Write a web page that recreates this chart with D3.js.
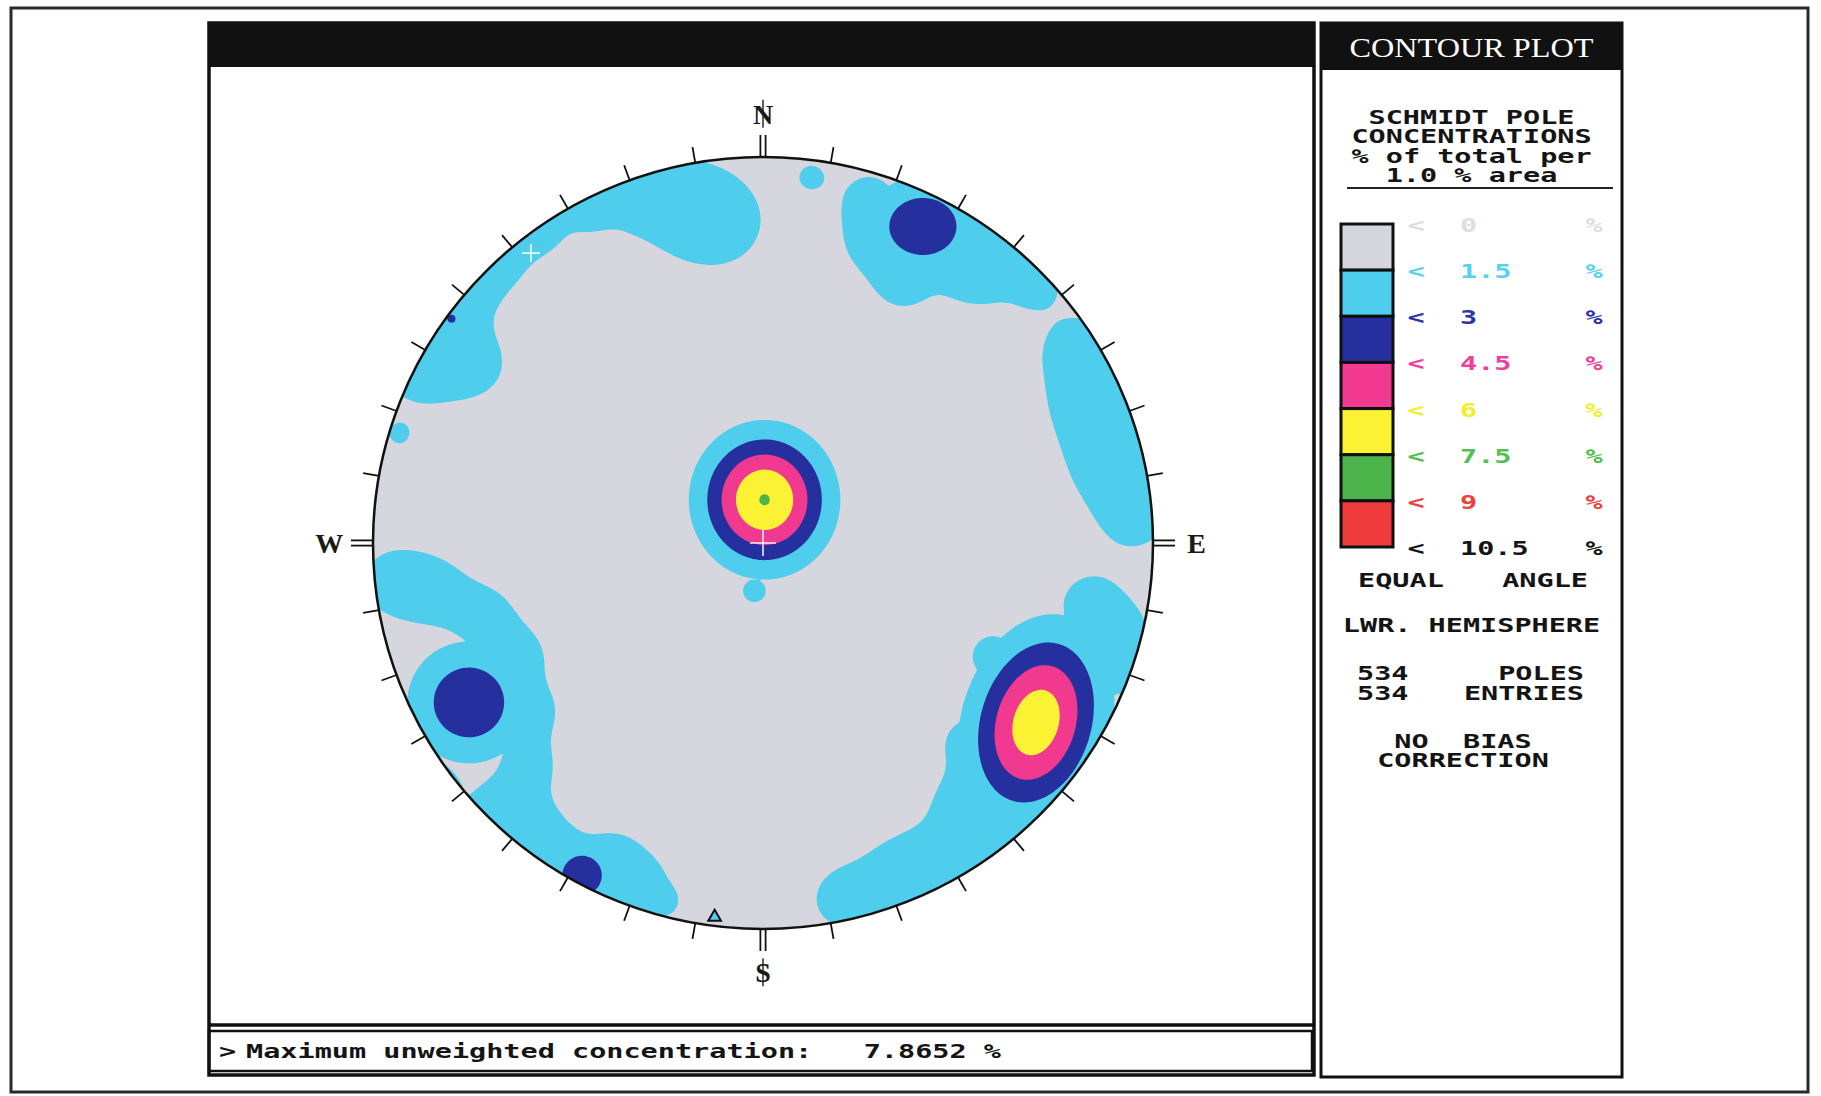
<!DOCTYPE html>
<html lang="en">
<head>
<meta charset="UTF-8">
<title>Contour plot - Schmidt pole concentrations</title>
<script src="https://cdn.jsdelivr.net/npm/d3@7"></script>
<style>
    body { margin: 0; background: #fff; }
    svg { display: block; }
    .mono {
        font-family: "DejaVu Sans Mono", monospace;
        font-weight: bold;
        font-size: 19px;
        white-space: pre;
    }
    .serif { font-family: "Liberation Serif", "DejaVu Serif", serif; }
</style>
</head>
<body>
<script>
    const width = 1821;
    const height = 1096;

    // legend bands: lower bound of each band (%), labels on the band edges
    const levels = [0, 1.5, 3, 4.5, 6, 7.5, 9];
    const levelLabels = ["0", "1.5", "3", "4.5", "6", "7.5", "9", "10.5"];
    const bandColors = ["#d6d6de", "#4fcdec", "#262f9e", "#f0398f", "#faf232", "#4db44b", "#ef3b3b"];
    const labelColors = ["#dddde6", "#55d2f0", "#2c34a6", "#f0409a", "#f2ee2c", "#52c052", "#f04040", "#141414"];

    // pole concentrations read off the net (x east, y north, net radius = 1)
    // peaks: [x, y, peak %, spread x, spread y, tilt deg]
    const clusterPeaks = [
        [0.004, 0.112, 7.56, 0.108, 0.115],   // centre
        [0.70, -0.465, 6.9, 0.11, 0.164, 16], // SE
        [0.41, 0.82, 4.2, 0.105, 0.09],       // NE
        [-0.754, -0.413, 4.2, 0.11],          // SW
        [-0.464, -0.861, 3.9, 0.07],          // S
        [-0.799, 0.581, 3.3, 0.025]           // NW speck
    ];
    // low (1.5 - 3 %) patches: [x, y, peak %, spread]
    const nwPatches = [[-0.873, 0.452, 2.4, 0.084], [-0.739, 0.461, 2.4, 0.060], [-0.843, 0.572, 2.4, 0.084],
        [-0.769, 0.676, 2.4, 0.078], [-0.673, 0.757, 2.4, 0.066], [-0.566, 0.816, 2.4, 0.050],
        [-0.449, 0.861, 2.4, 0.045], [-0.336, 0.900, 2.4, 0.060], [-0.216, 0.879, 2.4, 0.096],
        [-0.106, 0.831, 2.4, 0.090], [-0.933, 0.282, 2.2, 0.024]];
    const nePatches = [[0.270, 0.891, 2.4, 0.055], [0.282, 0.781, 2.4, 0.066], [0.359, 0.676, 2.4, 0.06],
        [0.530, 0.700, 2.4, 0.066], [0.628, 0.730, 2.4, 0.072], [0.703, 0.661, 2.4, 0.042],
        [0.515, 0.891, 2.4, 0.066], [0.124, 0.948, 2.2, 0.032]];
    const eastPatches = [[0.799, 0.512, 2.4, 0.06], [0.834, 0.407, 2.4, 0.084], [0.888, 0.288, 2.4, 0.096],
        [0.918, 0.169, 2.4, 0.084], [0.954, 0.064, 2.4, 0.06]];
    const sePatches = [[0.843, -0.160, 2.4, 0.072], [0.918, -0.243, 2.4, 0.06], [0.903, -0.345, 2.4, 0.045],
        [0.590, -0.294, 2.4, 0.054], [0.530, -0.518, 2.4, 0.06], [0.515, -0.667, 2.4, 0.06],
        [0.610, -0.751, 2.4, 0.066], [0.470, -0.822, 2.4, 0.084], [0.336, -0.876, 2.4, 0.084],
        [0.201, -0.924, 2.4, 0.06]];
    const swPatches = [[-0.948, -0.100, 2.4, 0.072], [-0.843, -0.124, 2.4, 0.066], [-0.715, -0.190, 2.4, 0.066],
        [-0.628, -0.294, 2.4, 0.06], [-0.596, -0.434, 2.4, 0.06], [-0.604, -0.578, 2.4, 0.06],
        [-0.679, -0.682, 2.4, 0.048], [-0.933, -0.518, 2.4, 0.066], [-0.834, -0.637, 2.4, 0.054]];
    const southPatches = [[-0.613, -0.721, 2.4, 0.06], [-0.545, -0.801, 2.4, 0.066], [-0.381, -0.822, 2.4, 0.066],
        [-0.306, -0.891, 2.4, 0.054], [-0.252, -0.930, 2.2, 0.027], [-0.022, -0.124, 2.4, 0.03]];

    // marks on the net
    const crossMarks = [[0, 0, 13], [-0.595, 0.751, 9]];
    const triangleMarks = [[-0.124, -0.977]];
    const tickAzimuths = d3.range(0, 360, 10);
    const cardinals = [["N", 0], ["E", 90], ["S", 180], ["W", 270]];

    // side panel text
    const headerLines = ["SCHMIDT POLE", "CONCENTRATIONS", "% of total per", "1.0 % area"];
    const projectionWords = ["EQUAL", "ANGLE"];
    const hemisphere = "LWR. HEMISPHERE";
    const poleCount = 534;
    const entryCount = 534;
    const biasLines = ["NO  BIAS", "CORRECTION"];
    const maxConcentration = 7.8652;

    const svg = d3.select("body").append("svg").attr("width", width).attr("height", height);
    svg.append("rect").attr("width", width).attr("height", height).attr("fill", "#fff");

    function monoText(g, str, x, y, anchor, color) {
        return g.append("text")
            .attr("class", "mono")
            .attr("transform", `translate(${x},${y}) scale(1.5,1)`)
            .attr("text-anchor", anchor)
            .attr("fill", color || "#141414")
            .text(str);
    }

    // ---------- frames ----------
    svg.append("rect").attr("x", 11).attr("y", 8).attr("width", 1797).attr("height", 1084)
        .attr("fill", "none").attr("stroke", "#2a2a2a").attr("stroke-width", 3);

    const main = svg.append("g");
    main.append("rect").attr("x", 209).attr("y", 23).attr("width", 1105).attr("height", 1052)
        .attr("fill", "none").attr("stroke", "#111").attr("stroke-width", 3.5);
    main.append("rect").attr("x", 209).attr("y", 23).attr("width", 1105).attr("height", 44).attr("fill", "#111");
    main.append("line").attr("x1", 209).attr("x2", 1314).attr("y1", 1025).attr("y2", 1025)
        .attr("stroke", "#111").attr("stroke-width", 3.5);
    main.append("rect").attr("x", 209).attr("y", 1031).attr("width", 1103).attr("height", 40)
        .attr("fill", "none").attr("stroke", "#111").attr("stroke-width", 2.5);
    monoText(main, ">", 219, 1058, "start");
    monoText(main, "Maximum unweighted concentration:   " + maxConcentration.toFixed(4) + " %", 246, 1058, "start");

    // ---------- stereonet ----------
    const cx = 763, cy = 543, rx = 390, ry = 386;
    const netX = d3.scaleLinear().domain([-1, 1]).range([cx - rx, cx + rx]);
    const netY = d3.scaleLinear().domain([-1, 1]).range([cy + ry, cy - ry]);

    const patches = [].concat(nwPatches, nePatches, eastPatches, sePatches, swPatches, southPatches);

    function kernelValue(k, u, v) {
        const sx = k[3], sy = k[4] || k[3], t = (k[5] || 0) * Math.PI / 180;
        const dx = u - k[0], dy = v - k[1];
        const a = dx * Math.cos(t) - dy * Math.sin(t);
        const b = dx * Math.sin(t) + dy * Math.cos(t);
        return k[2] * Math.exp(-0.5 * ((a / sx) * (a / sx) + (b / sy) * (b / sy)));
    }

    const n = 360, ext = 1.03, step = 2 * ext / n;
    const grid = new Float64Array(n * n);
    for (let j = 0; j < n; j++) {
        const v = ext - (j + 0.5) * step;
        for (let i = 0; i < n; i++) {
            const u = -ext + (i + 0.5) * step;
            let peak = 0, low = 0;
            for (const k of clusterPeaks) peak = Math.max(peak, kernelValue(k, u, v));
            for (const k of patches) low += kernelValue(k, u, v);
            grid[j * n + i] = Math.max(peak, Math.min(2.9, low));
        }
    }

    const contours = d3.contours().size([n, n]).thresholds(levels.slice(1))(grid);
    const gx = d3.scaleLinear().domain([0, n]).range([netX(-ext), netX(ext)]);
    const gy = d3.scaleLinear().domain([0, n]).range([netY(ext), netY(-ext)]);
    const gridPath = d3.geoPath(d3.geoTransform({
        point: function(x, y) { this.stream.point(gx(x), gy(y)); }
    }));

    svg.append("clipPath").attr("id", "netClip")
        .append("ellipse").attr("cx", cx).attr("cy", cy).attr("rx", rx).attr("ry", ry);

    const net = svg.append("g");
    const plot = net.append("g").attr("clip-path", "url(#netClip)");
    plot.append("ellipse").attr("cx", cx).attr("cy", cy).attr("rx", rx).attr("ry", ry).attr("fill", bandColors[0]);
    plot.selectAll("path.band")
        .data(contours)
        .enter()
        .append("path")
        .attr("class", "band")
        .attr("d", gridPath)
        .attr("fill", d => bandColors[levels.indexOf(d.value)]);

    // white crosses
    crossMarks.forEach(function(c) {
        const x = netX(c[0]), y = netY(c[1]), s = c[2];
        plot.append("path").attr("d", `M${x - s},${y}H${x + s}M${x},${y - s}V${y + s}`)
            .attr("stroke", "#fff").attr("stroke-width", 1.6).attr("opacity", 0.9);
    });

    net.append("ellipse").attr("cx", cx).attr("cy", cy).attr("rx", rx).attr("ry", ry)
        .attr("fill", "none").attr("stroke", "#111").attr("stroke-width", 2.5);

    net.selectAll("path.tri")
        .data(triangleMarks)
        .enter()
        .append("path")
        .attr("class", "tri")
        .attr("transform", d => `translate(${netX(d[0])},${netY(d[1]) - 3})`)
        .attr("d", d3.symbol(d3.symbolTriangle, 70))
        .attr("fill", bandColors[1]).attr("stroke", "#111").attr("stroke-width", 2);

    // ticks every 10 degrees, doubled at the cardinal points
    tickAzimuths.forEach(function(az) {
        const a = az * Math.PI / 180;
        const sx = Math.sin(a), sy = -Math.cos(a);
        const x0 = netX(Math.sin(a)), y0 = netY(Math.cos(a));
        if (az % 90 === 0) {
            [-2.6, 2.6].forEach(function(off) {
                const ox = Math.cos(a) * off, oy = Math.sin(a) * off;
                net.append("line")
                    .attr("x1", x0 + ox).attr("y1", y0 + oy)
                    .attr("x2", x0 + ox + sx * 22).attr("y2", y0 + oy + sy * 22)
                    .attr("stroke", "#111").attr("stroke-width", 1.8);
            });
        } else {
            net.append("line")
                .attr("x1", x0).attr("y1", y0)
                .attr("x2", x0 + sx * 16).attr("y2", y0 + sy * 16)
                .attr("stroke", "#111").attr("stroke-width", 1.8);
        }
    });

    cardinals.forEach(function(c) {
        const a = c[1] * Math.PI / 180;
        const x = netX(Math.sin(a) * 1.112), y = netY(Math.cos(a) * 1.112);
        net.append("text")
            .attr("class", "serif")
            .attr("x", x).attr("y", y + 10)
            .attr("text-anchor", "middle")
            .attr("font-size", 28).attr("font-weight", "bold")
            .attr("fill", "#1a1a1a")
            .text(c[0]);
        if (c[0] === "N" || c[0] === "S") {
            net.append("line").attr("x1", x).attr("x2", x).attr("y1", y - 14).attr("y2", y + 14)
                .attr("stroke", "#1a1a1a").attr("stroke-width", 1.4);
        }
    });

    // ---------- side panel ----------
    const side = svg.append("g");
    const px0 = 1321, pw = 301, pmid = px0 + pw / 2;
    side.append("rect").attr("x", px0).attr("y", 23).attr("width", pw).attr("height", 1054)
        .attr("fill", "none").attr("stroke", "#111").attr("stroke-width", 3);
    side.append("rect").attr("x", px0).attr("y", 23).attr("width", pw).attr("height", 47).attr("fill", "#111");
    side.append("text")
        .attr("class", "serif")
        .attr("x", pmid).attr("y", 57)
        .attr("text-anchor", "middle")
        .attr("font-size", 27)
        .attr("fill", "#fff")
        .attr("textLength", 244).attr("lengthAdjust", "spacingAndGlyphs")
        .text("CONTOUR PLOT");

    headerLines.forEach(function(t, i) {
        monoText(side, t, pmid, 124 + i * 19.3, "middle");
    });
    side.append("line").attr("x1", 1347).attr("x2", 1613).attr("y1", 188).attr("y2", 188)
        .attr("stroke", "#222").attr("stroke-width", 2);

    // legend
    const swatchY = d3.scaleLinear().domain([0, bandColors.length]).range([224, 547]);
    side.selectAll("rect.swatch")
        .data(bandColors)
        .enter()
        .append("rect")
        .attr("class", "swatch")
        .attr("x", 1341).attr("width", 52)
        .attr("y", (d, i) => swatchY(i))
        .attr("height", (d, i) => swatchY(i + 1) - swatchY(i))
        .attr("fill", d => d)
        .attr("stroke", "#111").attr("stroke-width", 3);

    levelLabels.forEach(function(t, i) {
        const y = swatchY(i) + 8;
        monoText(side, "<", 1416, y, "middle", labelColors[i]);
        monoText(side, t, 1460, y, "start", labelColors[i]);
        monoText(side, "%", 1594, y, "middle", labelColors[i]);
    });

    monoText(side, projectionWords[0], 1358, 587, "start");
    monoText(side, projectionWords[1], 1588, 587, "end");
    monoText(side, hemisphere, pmid, 632, "middle");
    monoText(side, String(poleCount), 1357, 680, "start");
    monoText(side, "POLES", 1584, 680, "end");
    monoText(side, String(entryCount), 1357, 700, "start");
    monoText(side, "ENTRIES", 1584, 700, "end");
    biasLines.forEach(function(t, i) {
        monoText(side, t, 1463, 748 + i * 19, "middle");
    });
</script>
</body>
</html>
